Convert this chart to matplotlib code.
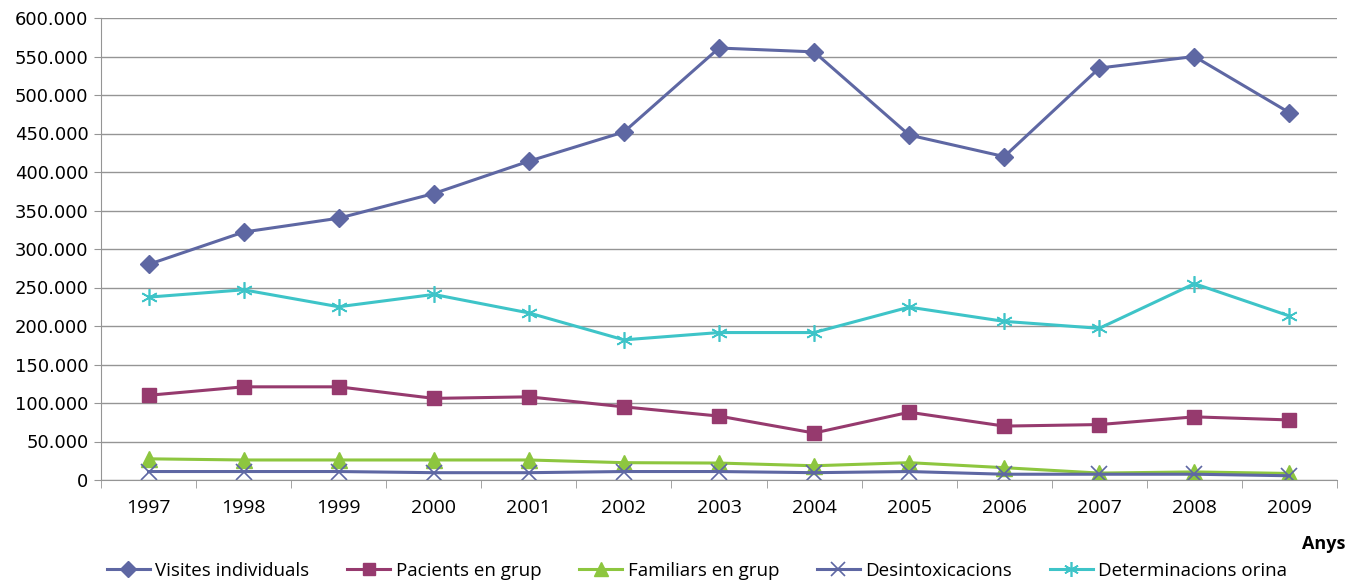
import matplotlib
matplotlib.use("Agg")
import matplotlib.pyplot as plt
from matplotlib.ticker import FuncFormatter, FixedLocator
import numpy as np

years = [1997, 1998, 1999, 2000, 2001, 2002, 2003, 2004, 2005, 2006, 2007, 2008, 2009]
visites = [280000, 322000, 340000, 372000, 414000, 452000, 561000, 556000, 448000, 420000, 535000, 550000, 477000]
pacients = [110000, 121000, 121000, 106000, 108000, 95000, 83000, 61000, 88000, 70000, 72000, 82000, 78000]
familiars = [27500, 26000, 26000, 26000, 26000, 22500, 22000, 18500, 22500, 16000, 9000, 10500, 8500]
desintox = [11000, 11000, 11000, 9500, 9500, 11000, 11000, 9500, 11000, 7500, 7500, 7500, 5500]
orina = [237500, 247000, 225000, 241000, 217000, 182000, 191500, 191500, 224500, 206000, 197000, 255000, 213000]

labels = ["Visites individuals", "Pacients en grup", "Familiars en grup", "Desintoxicacions", "Determinacions orina"]

fig = plt.figure(figsize=(13.51, 5.83), dpi=100)
ax = fig.add_axes([101/1351, 1 - 480/583, (1337-101)/1351, (480-18)/583])

x = np.arange(len(years))
ax.plot(x, visites, color="#5E67A3", lw=2.2, marker="D", ms=9, label=labels[0])
ax.plot(x, pacients, color="#963A6E", lw=2.2, marker="s", ms=10, label=labels[1])
ax.plot(x, familiars, color="#8DC63F", lw=2.2, marker="^", ms=11, label=labels[2])
ax.plot(x, desintox, color="#5E67A3", lw=2.2, marker="x", ms=11, mew=1.2, label=labels[3])
ax.plot(x, orina, color="#3EC4C8", lw=2.2, marker=(6, 2, 0), ms=12, mew=1.2, label=labels[4])

ax.set_xlim(-0.5, len(years) - 0.5)
ax.set_ylim(0, 600000)
ax.set_yticks(np.arange(0, 600001, 50000))
ax.yaxis.set_major_formatter(FuncFormatter(lambda v, p: "0" if v == 0 else f"{int(v):,}".replace(",", ".")))
ax.grid(axis="y", color="#959595", lw=1)
ax.set_axisbelow(True)

ax.set_xticks(x)
ax.set_xticklabels([str(y) for y in years], fontsize=14, family="Open Sans")
ax.xaxis.set_minor_locator(FixedLocator(np.arange(-0.5, len(years), 1)))
ax.tick_params(axis="x", which="major", length=0, pad=14)
ax.tick_params(axis="x", which="minor", length=6, color="#959595", direction="out")
ax.tick_params(axis="y", length=5, color="#959595", labelsize=13, pad=4)

for s in ["top", "right"]:
    ax.spines[s].set_visible(False)
ax.spines["left"].set_color("#959595")
ax.spines["bottom"].set_color("#959595")

fig.text(1345/1351, 1 - 544/583, "Anys", ha="right", va="center", fontsize=13, fontweight="bold", family="Open Sans")

leg = fig.legend(loc="center", bbox_to_anchor=(0.516, 1 - 571/583), ncol=5, frameon=False,
                 handlelength=2.3, columnspacing=2.0, handletextpad=0.3, markerscale=0.9,
                 prop={"family": "Open Sans", "size": 13.5})

fig.savefig("out.png", dpi=100)
